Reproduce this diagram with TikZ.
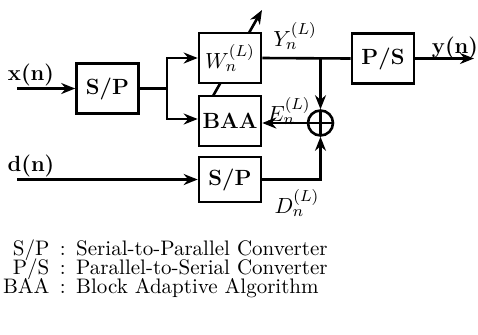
\documentclass[tikz,border=0pt]{standalone}
\usetikzlibrary{arrows.meta, positioning, backgrounds}

\begin{document}
\begin{tikzpicture}[
    x=0.5pt, y=-0.5pt,
    font=\fontsize{11}{13}\selectfont,
    % estilos de bloques y flechas
    bloque/.style = {draw=black, fill=white, line width=1.3pt, minimum width=31pt, minimum height=25pt, inner sep=0pt, font=\fontsize{11}{13}\selectfont\bfseries},
    sumador/.style = {draw=black, fill=white, circle, line width=1.3pt, minimum size=12.5pt, inner sep=0pt,
        path picture={\draw[line width=1.1pt] (path picture bounding box.north) -- (path picture bounding box.south)
            (path picture bounding box.west) -- (path picture bounding box.east);}},
    etiqueta/.style = {inner sep=0pt, font=\fontsize{11}{13}\selectfont\bfseries},
    linea/.style = {line width=1.3pt},
    flecha/.style = {line width=1.3pt, -{Stealth[length=7pt, width=5.5pt]}}
]
\useasboundingbox (0,0) rectangle (478,334);

% ===============================
% Bloques
% ===============================
\node (sp1) [bloque] at (107.5,88.5) {S/P};
\node (w) [bloque] at (230,58) {$W_n^{(L)}$};
\node (baa) [bloque] at (230,121) {BAA};
\node (sp2) [bloque, minimum height=22.5pt] at (230,179.5) {S/P};
\node (ps) [bloque] at (383,58.5) {P/S};
\node (sum) [sumador] at (320.5,123) {};

% ===============================
% Etiquetas
% ===============================
\node (xlab) [etiqueta] at (31,75) {x(n)};
\node (dlab) [etiqueta] at (31,166) {d(n)};
\node (ylab) [etiqueta] at (455,48) {y(n)};
\node (Ylab) [inner sep=0pt] at (295,36) {$Y_n^{(L)}$};
\node (Elab) [inner sep=0pt] at (289,111) {$E_n^{(L)}$};
\node (Dlab) [inner sep=0pt] at (297,203) {$D_n^{(L)}$};

\coordinate (xin) at (17,88.5);
\coordinate (din) at (17,179.5);
\coordinate (yout) at (474,58.5);
\coordinate (br) at (167,88.5);
\coordinate (aj0) at (213,96);
\coordinate (aj1) at (262,10);

% ===============================
% Flechas
% ===============================
\draw [flecha] (xin) -- (sp1);
\draw [linea] (sp1.east) -- (br);
\draw [flecha] (br) |- (w.west);
\draw [flecha] (br) |- ([yshift=1pt]baa.west);
\draw [flecha] (din) -- (sp2);
\draw [linea] (w.east) -- (ps.west);
\draw [flecha] (sum |- w.east) -- (sum.north);
\draw [flecha] (sp2.east) -| (sum.south);
\draw [flecha] (sum.west) -- (sum.west -| baa.east);
\draw [flecha] (ps.east) -- (yout);
\begin{scope}[on background layer]
    \draw [flecha] (aj0) -- (aj1);
\end{scope}

% ===============================
% Leyenda
% ===============================
\node (leyenda) [anchor=base west, inner sep=0pt, align=left, font={\fontsize{10.5}{9.5}\selectfont\lineskiplimit=-10pt\relax}] at (2,293) {%
    \makebox[23.5pt][r]{S/P}\enspace:\enspace Serial-to-Parallel Converter\\
    \makebox[23.5pt][r]{P/S}\enspace:\enspace Parallel-to-Serial Converter\\
    \makebox[23.5pt][r]{BAA}\enspace:\enspace Block Adaptive Algorithm};

\end{tikzpicture}
\end{document}
